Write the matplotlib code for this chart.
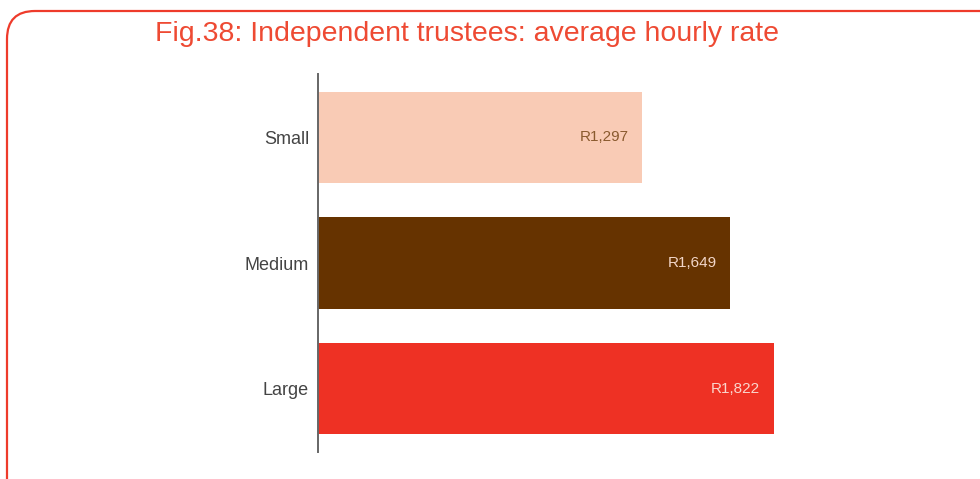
import matplotlib.pyplot as plt
from matplotlib.patches import FancyBboxPatch

categories = ["Small", "Medium", "Large"]
rates = [1297, 1649, 1822]
labels = ["R1,297", "R1,649", "R1,822"]

bar_colors = ["#F9CBB5", "#663300", "#EE3124"]
label_colors = ["#8A5A2E", "#F2D6C8", "#FAD6CC"]

plt.rcParams['font.family'] = ['Liberation Sans', 'DejaVu Sans']

W, H, DPI = 980, 479, 100
fig = plt.figure(figsize=(W/DPI, H/DPI), dpi=DPI)

# rounded red frame, partly cut off on the right and bottom
frame = FancyBboxPatch((7/W, -0.2), 1.1, 1 - 11/H + 0.2,
                       boxstyle="round,pad=0,rounding_size=%f" % (28/W),
                       mutation_aspect=W/H,
                       transform=fig.transFigure, fill=False,
                       edgecolor="#EE3B2B", linewidth=1.6, clip_on=False)
fig.patches.append(frame)

fig.text(467/W, 1 - 34/H, "Fig.38: Independent trustees: average hourly rate",
         color="#EE4A33", fontsize=20.5, ha="center", va="center")

ax = fig.add_axes([318/W, 1 - 452/H, 600/W, 378/H])
y = list(range(len(categories)))
bars = ax.barh(y, rates, height=0.725, color=bar_colors)

for b, lab, c in zip(bars, labels, label_colors):
    ax.annotate(lab, (b.get_width(), b.get_y() + b.get_height()/2),
                xytext=(-9.5, 0), textcoords="offset points",
                ha="right", va="center", fontsize=11, color=c)

ax.set_xlim(0, 2400)
ax.set_ylim(2.505, -0.505)
ax.set_yticks(y)
ax.set_yticklabels(categories, fontsize=13, color="#444444")
ax.tick_params(axis="y", length=0, pad=6.5)
ax.set_xticks([])
for s in ["top", "right", "bottom"]:
    ax.spines[s].set_visible(False)
ax.spines["left"].set_color("#666666")
ax.spines["left"].set_linewidth(1.4)
ax.patch.set_alpha(0)

fig.savefig("out.png", dpi=DPI)
